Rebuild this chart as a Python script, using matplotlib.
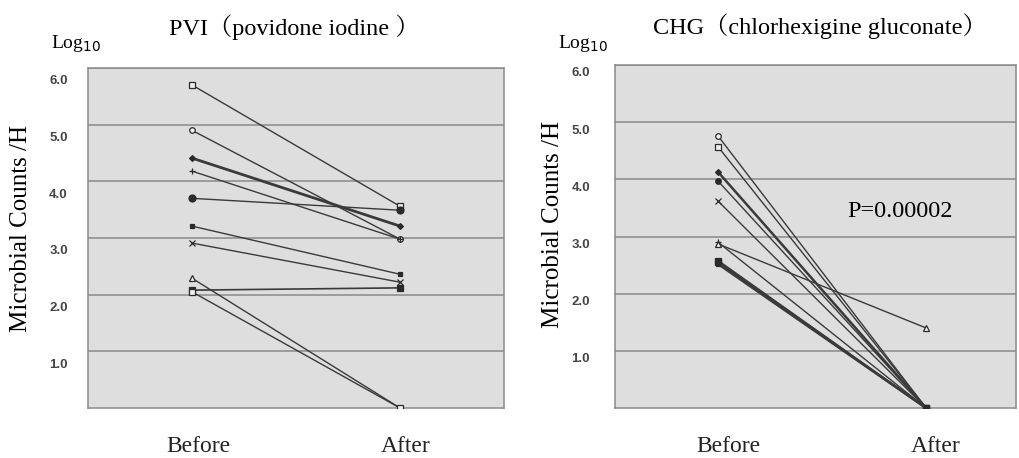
import numpy as np
import matplotlib.pyplot as plt
from matplotlib.transforms import ScaledTranslation

# data (log10 counts)
groups = ["Before", "After"]
yticks = [1.0, 2.0, 3.0, 4.0, 5.0, 6.0]

pvi_before = [5.70, 4.90, 4.41, 4.18, 3.70, 3.21, 2.91, 2.29, 2.08, 2.05]
pvi_after = [3.56, 2.98, 3.21, 2.98, 3.49, 2.36, 2.22, 0.00, 2.12, 0.00]

chg_before = [4.76, 4.57, 4.13, 3.97, 3.62, 2.90, 2.87, 2.58, 2.55, 2.52]
chg_after = [0.00, 0.00, 0.00, 0.00, 0.00, 0.00, 1.40, 0.00, 0.00, 0.00]

pvi_title = "PVI（povidone iodine ）"
chg_title = "CHG（chlorhexigine gluconate）"
p_text = "P=0.00002"

# marker style per subject: (marker, filled, size, linewidth)
pvi_style = [('s', False, 5, 1.0), ('o', False, 4, 1.0), ('D', True, 3, 2.0),
             ('+', True, 4, 1.0), ('o', True, 5, 1.0), ('s', True, 3, 1.0),
             ('x', True, 4, 1.0), ('^', False, 5, 1.0), ('s', True, 5, 1.2),
             ('s', False, 4, 1.0)]
chg_style = [('o', False, 4, 1.0), ('s', False, 5, 1.0), ('D', True, 3, 1.8),
             ('o', True, 4, 1.0), ('x', True, 4, 1.0), ('+', True, 4, 1.0),
             ('^', False, 5, 1.0), ('s', True, 4, 1.2), ('s', True, 4, 1.8),
             ('s', True, 3, 1.8)]

serif = ['Liberation Serif', 'Noto Serif CJK JP', 'Noto Sans CJK JP', 'DejaVu Serif']
W, H = 1020, 458

fig = plt.figure(figsize=(W / 100, H / 100), dpi=100)


def px(x, y):
    return x / W, 1 - y / H


def panel(rect, before, after, styles, xlim, ydrop, ypad, xoff):
    ax = fig.add_axes(rect)
    ax.set_facecolor('#dedede')
    for b, a, (m, filled, ms, lw) in zip(before, after, styles):
        ax.plot([0, 1], [b, a], color='#3a3a3a', lw=lw, marker=m, ms=ms,
                mfc='#2a2a2a' if filled else '#f0f0f0', mec='#2a2a2a', mew=0.9,
                zorder=3)
    ax.set_xlim(*xlim)
    ax.set_ylim(0, 6)
    ax.set_yticks(yticks)
    ax.set_yticklabels(["%.1f" % t for t in yticks], fontsize=9.5, fontweight='bold',
                       family='Liberation Sans', color='#444444')
    ax.grid(axis='y', color='#8a8a8a', lw=1.1)
    ax.set_axisbelow(True)
    ax.tick_params(axis='y', length=0, pad=ypad)
    ax.set_xticks([0, 1])
    ax.set_xticklabels(groups, fontsize=17, family=serif, color='#222222')
    ax.tick_params(axis='x', length=0, pad=20)
    shift = ScaledTranslation(0, -ydrop / 100, fig.dpi_scale_trans)
    for lab in ax.get_yticklabels():
        lab.set_transform(lab.get_transform() + shift)
    shiftx = ScaledTranslation(xoff / 100, 0, fig.dpi_scale_trans)
    for lab in ax.get_xticklabels():
        lab.set_transform(lab.get_transform() + shiftx)
    for s in ax.spines.values():
        s.set_color('#8a8a8a')
        s.set_linewidth(1.1)
    return ax


ax1 = panel([88 / W, 1 - 408 / H, 416 / W, 340 / H], pvi_before, pvi_after,
            pvi_style, (-0.5, 1.5), 12, 14.5, 6)
ax2 = panel([615 / W, 1 - 408 / H, 401 / W, 343 / H], chg_before, chg_after,
            chg_style, (-0.495, 1.432), 7, 18, 10)

fig.text(*px(294, 27), pvi_title, ha='center', va='center', fontsize=17.5, family=serif)
fig.text(*px(820, 26), chg_title, ha='center', va='center', fontsize=17.5, family=serif)
fig.text(*px(76, 44), r'Log$_{\mathsf{10}}$', ha='center', va='center',
         fontsize=14, family=serif)
fig.text(*px(583, 43), r'Log$_{\mathsf{10}}$', ha='center', va='center',
         fontsize=14, family=serif)
fig.text(*px(21, 228), "Microbial Counts /H", rotation=90, ha='center', va='center',
         fontsize=18, family=serif)
fig.text(*px(553, 224), "Microbial Counts /H", rotation=90, ha='center', va='center',
         fontsize=18, family=serif)
ax2.text(0.875, 3.43, p_text, ha='center', va='center', fontsize=17.5, family=serif)

fig.savefig('out.png', dpi=100)
